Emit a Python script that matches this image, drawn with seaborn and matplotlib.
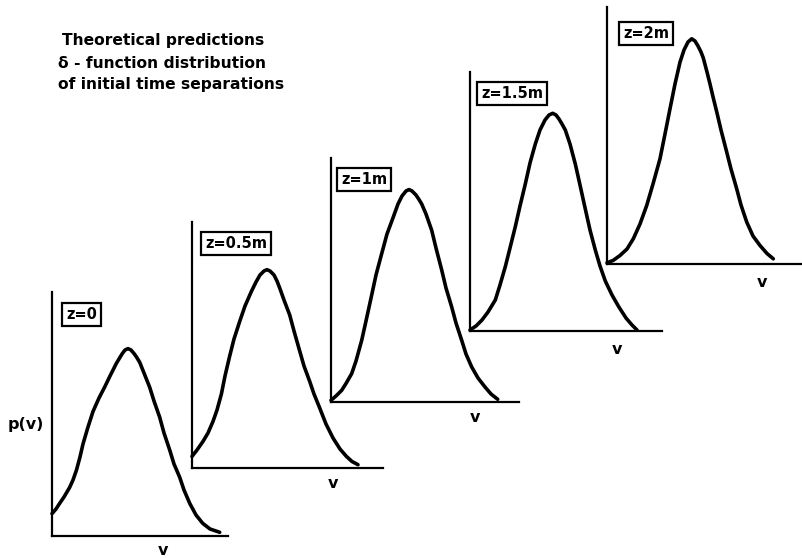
import numpy as np
import pandas as pd
import matplotlib
matplotlib.use("Agg")
import matplotlib.pyplot as plt
import seaborn as sns

# ---- data (arbitrary units, per panel) ----
labels = ["z=0", "z=0.5m", "z=1m", "z=1.5m", "z=2m"]

v_z0 = [0, 4, 7.7, 12, 17.7, 21, 24.4, 28, 31, 36, 41, 47, 52.7, 58, 64.4, 70, 73, 76, 79, 82,
        84.5, 87.7, 92, 97.7, 102, 107.7, 112, 117.7, 122, 127.7, 132, 137.7, 144, 150.7, 158, 167.7]
p_z0 = [22.4, 27, 32.7, 39, 48.7, 56, 65.7, 79, 92, 109, 124.5, 138, 149, 160, 172.7, 182, 186, 187.4, 186, 182.5,
        179, 173.7, 163, 148.7, 135, 118.7, 103, 86, 72, 58.7, 46, 32.7, 21, 12.7, 7, 3.7]

v_z05 = [0, 5, 11, 16, 21, 25, 29.4, 33, 37.7, 42, 47.7, 53, 59.4, 64, 68, 72, 75, 78, 82, 85,
         87.7, 92, 97.7, 102, 107.7, 112, 117.7, 122, 127.7, 134, 141, 148, 154.4, 160, 166]
p_z05 = [11.6, 18, 26.6, 35, 46.6, 58, 74, 92, 112, 129, 146.6, 162, 176.6, 186, 193, 197, 198.3, 197, 193, 187,
         180, 168, 153, 137, 117, 102, 86.6, 74, 60, 44, 30, 19, 11.6, 6.5, 3.3]

v_z1 = [0, 5, 10.7, 15, 20.7, 25, 30.7, 35, 40.7, 45, 50.7, 56, 62.3, 67, 71, 75, 78, 81, 85, 88,
        90.7, 95, 100.7, 105, 110.7, 115, 120.7, 125, 130.7, 135, 140.7, 147, 154, 160, 166.7]
p_z1 = [1.7, 6, 11.7, 18.5, 28.4, 41, 61.7, 81, 107, 127, 148.4, 168, 185, 198, 206, 211, 212.4, 211, 207, 202.5,
        198, 188, 171.7, 154, 132, 114, 95, 79, 61.7, 48, 35, 24, 15, 8, 2.7]

v_z15 = [0, 6, 12, 18, 25.3, 30, 35.3, 40, 45.3, 50, 55.3, 60, 65.3, 70, 75, 79, 82.7, 86, 89, 92,
         95.3, 100, 105.3, 110, 115.3, 120, 125.3, 130, 135.3, 142, 148.7, 156, 162, 167]
p_z15 = [1, 5, 11, 19, 31, 46, 64.3, 83, 104.3, 125, 147, 168, 187, 201, 211, 216, 217.7, 216, 212, 207,
         201, 187, 167, 146, 122, 101, 81, 65, 50, 36, 24.3, 13, 6, 1]

v_z2 = [0, 6, 13, 20, 26.3, 33, 39.7, 46, 53, 58, 63, 68, 73, 77, 81, 84.7, 88, 91, 94, 96.3,
        100, 103, 106.3, 110, 114, 119.7, 124, 129.7, 134, 139.7, 146, 153, 160, 166.3]
p_z2 = [1.2, 3.5, 8.5, 15, 25.2, 40, 58.5, 80, 105.2, 130, 155.2, 180, 201.8, 214, 222, 225.2, 223, 218, 212, 206,
        192, 180, 166, 151, 134, 112, 95, 75.2, 59, 42, 28, 18.5, 10.5, 5.2]

curves_v = [v_z0, v_z05, v_z1, v_z15, v_z2]
curves_p = [p_z0, p_z05, p_z1, p_z15, p_z2]

# ---- layout (pixels in an 802x559 canvas) ----
W, H = 802, 559
origins = [(52, 536), (192, 468), (331, 402), (470, 331), (607, 264)]
axis_len = [(176, 244), (191, 246), (188, 244), (192, 259), (195, 257)]
box_off = [(10, 11), (9, 10), (6, 10), (7, 10), (12, 15)]
vlab_off = [(111, 7), (141, 8), (144, 8), (147, 11), (155, 11)]

sns.set_theme(style="white")
plt.rcParams["font.family"] = ["DejaVu Sans"]

fig = plt.figure(figsize=(W / 100, H / 100), dpi=100)
fig.patch.set_facecolor("white")

fs_box = 10.5
for i in range(5):
    x0, y0 = origins[i]
    lx, ly = axis_len[i]
    ax = fig.add_axes([x0 / W, (H - y0) / H, lx / W, ly / H])
    ax.patch.set_alpha(0)
    df = pd.DataFrame({"v": curves_v[i], "p": curves_p[i]})
    sns.lineplot(data=df, x="v", y="p", ax=ax, color="black", lw=2.6,
                 sort=False, estimator=None, clip_on=False)
    for ln in ax.get_lines():
        ln.set_solid_joinstyle("round")
        ln.set_solid_capstyle("round")
    ax.set_xlim(0, lx)
    ax.set_ylim(0, ly)
    ax.set_xticks([])
    ax.set_yticks([])
    ax.set_xlabel("")
    ax.set_ylabel("")
    for s in ["top", "right"]:
        ax.spines[s].set_visible(False)
    for s in ["left", "bottom"]:
        ax.spines[s].set_color("black")
        ax.spines[s].set_linewidth(1.6)
    bx, by = box_off[i]
    pad = 0.28 * fs_box * 100 / 72
    ax.text(bx + pad, ly - by - pad, labels[i], ha="left", va="top",
            fontsize=fs_box, fontweight="bold", color="black",
            bbox=dict(boxstyle="square,pad=0.28", fc="white", ec="black", lw=1.6),
            zorder=5)
    vx, vy = vlab_off[i]
    ax.text(vx, -vy, "v", ha="center", va="top", fontsize=11.5,
            fontweight="bold", color="black", clip_on=False)

fig.text(26 / W, 1 - 424 / H, "p(v)", ha="center", va="center",
         fontsize=11.5, fontweight="bold", color="black")

fig.text(62 / W, 1 - 40 / H, "Theoretical predictions", ha="left", va="center",
         fontsize=11.2, fontweight="bold", color="black")
fig.text(58 / W, 1 - 63 / H, "δ - function distribution", ha="left", va="center",
         fontsize=11.2, fontweight="bold", color="black")
fig.text(58 / W, 1 - 84 / H, "of initial time separations", ha="left", va="center",
         fontsize=11.2, fontweight="bold", color="black")

fig.savefig("out.png", dpi=100, facecolor="white")
